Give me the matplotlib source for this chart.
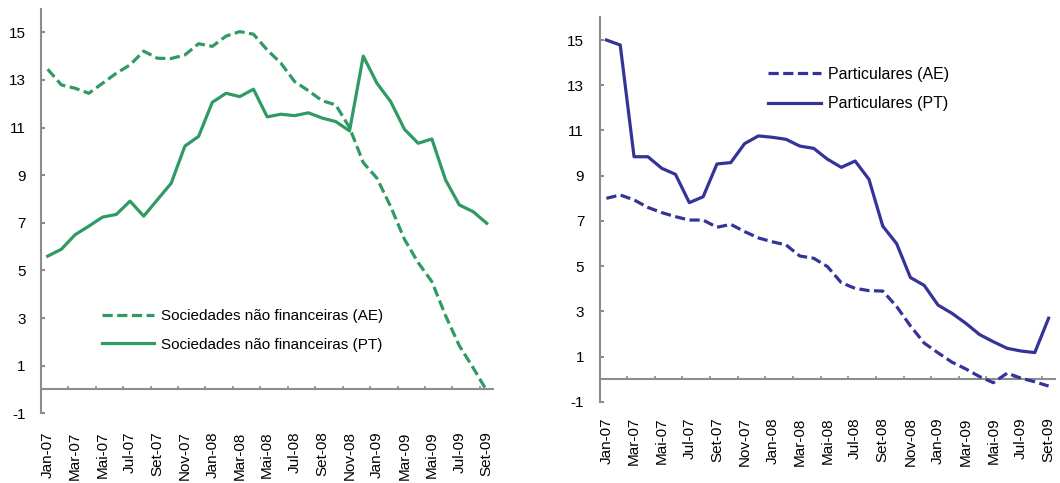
import matplotlib
matplotlib.use("Agg")
import matplotlib.pyplot as plt
import numpy as np

plt.rcParams['font.family'] = ['Liberation Sans', 'DejaVu Sans']
plt.rcParams['axes.unicode_minus'] = False

months = ["Jan-07", "Fev-07", "Mar-07", "Abr-07", "Mai-07", "Jun-07", "Jul-07", "Ago-07",
          "Set-07", "Out-07", "Nov-07", "Dez-07", "Jan-08", "Fev-08", "Mar-08", "Abr-08",
          "Mai-08", "Jun-08", "Jul-08", "Ago-08", "Set-08", "Out-08", "Nov-08", "Dez-08",
          "Jan-09", "Fev-09", "Mar-09", "Abr-09", "Mai-09", "Jun-09", "Jul-09", "Ago-09",
          "Set-09"]

snf_ae = [13.45, 12.79, 12.65, 12.44, 12.86, 13.28, 13.63, 14.21, 13.91, 13.90, 14.05,
          14.52, 14.41, 14.84, 15.03, 14.92, 14.26, 13.70, 12.93, 12.55, 12.13, 11.95,
          11.00, 9.53, 8.87, 7.68, 6.31, 5.33, 4.53, 3.10, 1.84, 0.92, -0.05]
snf_pt = [5.60, 5.89, 6.50, 6.86, 7.24, 7.35, 7.91, 7.28, 7.97, 8.66, 10.22, 10.63,
          12.06, 12.44, 12.30, 12.61, 11.45, 11.56, 11.50, 11.62, 11.40, 11.25, 10.86,
          14.00, 12.86, 12.09, 10.93, 10.34, 10.52, 8.80, 7.75, 7.47, 6.98]

part_ae = [8.00, 8.15, 7.93, 7.60, 7.37, 7.19, 7.04, 7.04, 6.72, 6.85, 6.53, 6.25, 6.08,
           5.94, 5.45, 5.35, 4.98, 4.27, 4.02, 3.92, 3.90, 3.22, 2.36, 1.60, 1.17, 0.76,
           0.46, 0.12, -0.15, 0.27, 0.05, -0.11, -0.30]
part_pt = [15.00, 14.78, 9.84, 9.84, 9.33, 9.06, 7.81, 8.07, 9.52, 9.58, 10.42, 10.76,
           10.70, 10.61, 10.31, 10.21, 9.73, 9.37, 9.65, 8.84, 6.77, 6.00, 4.50, 4.15,
           3.28, 2.92, 2.48, 1.98, 1.66, 1.37, 1.25, 1.18, 2.70]

y_ticks = [-1, 1, 3, 5, 7, 9, 11, 13, 15]

GREEN = "#2f9a63"
BLUE = "#333399"
GREY = "#8c8c8c"
W, H = 1060, 483

fig = plt.figure(figsize=(W / 100, H / 100), dpi=100)


def px_axes(x0, y0, x1, y1):
    return fig.add_axes([x0 / W, 1 - y1 / H, (x1 - x0) / W, (y1 - y0) / H])


def style(ax, label_pad):
    n = len(months)
    x = np.arange(n)
    ax.set_xlim(-0.5, n - 0.5)
    ax.set_ylim(-1, 16)
    for side in ("top", "right", "bottom"):
        ax.spines[side].set_visible(False)
    ax.spines["left"].set_color(GREY)
    ax.spines["left"].set_linewidth(1.5)
    ax.set_yticks(y_ticks)
    ax.tick_params(axis="y", direction="in", length=3, width=1.5, color=GREY,
                   labelsize=11, pad=11)
    ax.set_xticks(x[::2])
    ax.set_xticklabels(months[::2], rotation=90, fontsize=11)
    ax.tick_params(axis="x", length=0, pad=label_pad)
    # zero line with category-boundary ticks
    ax.axhline(0, color=GREY, lw=1.5, zorder=1)
    bounds = np.arange(-0.5, n, 2)[1:]
    ax.vlines(bounds, 0, 0.16, color=GREY, lw=1.2, zorder=1)
    return x


dash = (0, (3.2, 1.4))

ax1 = px_axes(40.8, 8.5, 493.6, 413.3)
x = style(ax1, 13)
ax1.plot(x, snf_ae, color=GREEN, lw=2.3, ls=dash, label="Sociedades não financeiras (AE)")
ax1.plot(x, snf_pt, color=GREEN, lw=2.3, label="Sociedades não financeiras (PT)")
ax1.legend(loc="upper left", bbox_to_anchor=(102 / W, 1 - 309 / H),
           bbox_transform=fig.transFigure, frameon=False, fontsize=11,
           handlelength=3.4, handletextpad=0.45, labelspacing=0.95,
           borderpad=0, borderaxespad=0)

ax2 = px_axes(599.5, 17.4, 1055.5, 401.9)
x = style(ax2, 11)
ax2.plot(x, part_ae, color=BLUE, lw=2.3, ls=dash, label="Particulares (AE)")
ax2.plot(x, part_pt, color=BLUE, lw=2.3, label="Particulares (PT)")
ax2.legend(loc="upper left", bbox_to_anchor=(768 / W, 1 - 67 / H),
           bbox_transform=fig.transFigure, frameon=False, fontsize=11.5,
           handlelength=3.3, handletextpad=0.45, labelspacing=0.9,
           borderpad=0, borderaxespad=0)

fig.savefig("out.png", dpi=100)
